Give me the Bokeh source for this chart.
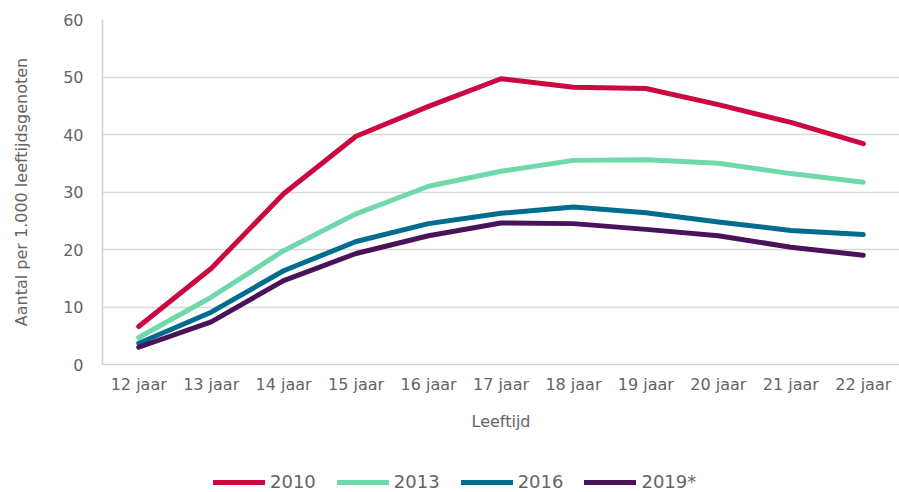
from bokeh.plotting import figure
from bokeh.layouts import column
from bokeh.models import Range1d, FactorRange, Legend, LegendItem, SingleIntervalTicker
from bokeh.embed import file_html
from bokeh.resources import INLINE

ages = ["12 jaar", "13 jaar", "14 jaar", "15 jaar", "16 jaar", "17 jaar",
        "18 jaar", "19 jaar", "20 jaar", "21 jaar", "22 jaar"]
y2010 = [6.6, 16.7, 29.7, 39.7, 44.9, 49.7, 48.2, 48.0, 45.2, 42.1, 38.4]
y2013 = [4.7, 11.7, 19.8, 26.2, 31.0, 33.6, 35.5, 35.6, 35.0, 33.2, 31.7]
y2016 = [3.7, 9.1, 16.3, 21.4, 24.5, 26.3, 27.4, 26.4, 24.8, 23.3, 22.6]
y2019 = [3.0, 7.4, 14.6, 19.3, 22.4, 24.6, 24.5, 23.5, 22.4, 20.4, 19.0]
series_names = ["2010", "2013", "2016", "2019*"]
colors = ["#CC0841", "#6FD9AC", "#006D8F", "#4A1259"]

FONT = "DejaVu Sans"
TXT = "#646464"

p = figure(width=899, height=442, x_range=FactorRange(*ages, range_padding=0),
           y_range=Range1d(0, 60), output_backend="svg", toolbar_location=None,
           min_border_left=102, min_border_right=0, min_border_top=19, min_border_bottom=78)
p.outline_line_color = None
p.xgrid.grid_line_color = None
p.ygrid.grid_line_color = "#D9D9D9"
p.ygrid.grid_line_width = 1.5
p.yaxis.ticker = SingleIntervalTicker(interval=10)

for ax in (p.xaxis[0], p.yaxis[0]):
    ax.axis_line_color = "#D0D0D0"
    ax.axis_line_width = 1.5
    ax.major_tick_line_color = None
    ax.minor_tick_line_color = None
    ax.major_label_text_font = FONT
    ax.major_label_text_font_size = "16px"
    ax.major_label_text_color = TXT
    ax.axis_label_text_font = FONT
    ax.axis_label_text_font_size = "16px"
    ax.axis_label_text_font_style = "normal"
    ax.axis_label_text_color = TXT

p.xaxis.major_label_standoff = 4
p.xaxis.axis_label = "Leeftijd"
p.xaxis.axis_label_standoff = 15
p.yaxis.major_label_standoff = 13
p.yaxis.axis_label = "Aantal per 1.000 leeftijdsgenoten"
p.yaxis.axis_label_standoff = 29

all_series = [y2010, y2013, y2016, y2019]
for name, ys, c in zip(series_names, all_series, colors):
    p.line(ages, ys, line_color=c, line_width=5, line_cap="round", line_join="round")

# legend strip below the chart (its renderers lie outside its visible range)
lg = figure(width=899, height=50, x_range=FactorRange(*ages, range_padding=0),
            y_range=Range1d(-200, -199), output_backend="svg", toolbar_location=None,
            x_axis_location=None, y_axis_location=None,
            min_border_left=0, min_border_right=0, min_border_top=0, min_border_bottom=0)
lg.outline_line_color = None
lg.xgrid.grid_line_color = None
lg.ygrid.grid_line_color = None
items = []
for name, ys, c in zip(series_names, all_series, colors):
    r = lg.line(ages, ys, line_color=c, line_width=5, line_cap="round")
    items.append(LegendItem(label=name, renderers=[r]))
legend = Legend(items=items, orientation="horizontal", location=(111, 0),
                border_line_color=None, background_fill_alpha=0,
                label_text_font=FONT, label_text_font_size="18px", label_text_color=TXT,
                glyph_width=52, glyph_height=20, label_standoff=5, spacing=21,
                padding=0, margin=0)
lg.add_layout(legend, "center")

layout = column(p, lg, spacing=0)
open("out.html", "w").write(file_html(layout, INLINE))
